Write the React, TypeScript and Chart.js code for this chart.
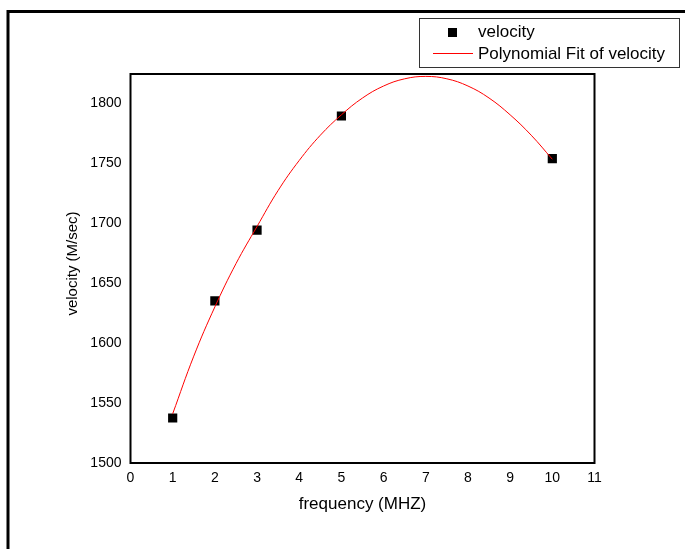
import React, { useEffect, useRef } from "react";
import { Chart, registerables } from "chart.js";

Chart.register(...registerables);

const frequency = [1, 2, 3, 5, 10];
const velocity = [1537.5, 1635, 1694, 1789, 1753.5];

const fitFrequency = [1, 1.5, 2, 2.5, 3, 3.5, 4, 4.5, 5, 5.5, 6, 6.5, 7, 7.5, 8, 8.5, 9, 9.5, 10];
const fitVelocity = [1541, 1589, 1630, 1666, 1697, 1727, 1752, 1773, 1790, 1804, 1814, 1820, 1822, 1820, 1814, 1804, 1790, 1773, 1753];

const xTicks = [0, 1, 2, 3, 4, 5, 6, 7, 8, 9, 10, 11];
const yTicks = [1500, 1550, 1600, 1650, 1700, 1750, 1800];

const legendLabels = ["velocity", "Polynomial Fit of velocity"];
const xTitle = "frequency (MHZ)";
const yTitle = "velocity (M/sec)";

const FONT = 'Arial, "Liberation Sans", sans-serif';

const decorPlugin = {
  id: "decor",
  afterDraw(chart: any) {
    const ctx = chart.ctx;
    const a = chart.chartArea;
    ctx.save();
    // plot box
    ctx.strokeStyle = "#000";
    ctx.lineWidth = 2;
    ctx.strokeRect(a.left, a.top, a.right - a.left, a.bottom - a.top);
    // outer frame
    ctx.lineWidth = 3;
    ctx.beginPath();
    ctx.moveTo(8, 560);
    ctx.lineTo(8, 11.5);
    ctx.lineTo(700, 11.5);
    ctx.stroke();
    // legend
    ctx.fillStyle = "#fff";
    ctx.fillRect(419.5, 18.5, 260, 49);
    ctx.lineWidth = 1;
    ctx.strokeStyle = "#333";
    ctx.strokeRect(419.5, 18.5, 260, 49);
    ctx.fillStyle = "#000";
    ctx.fillRect(448, 28, 9, 9);
    ctx.fillStyle = "#ff0000";
    ctx.fillRect(433, 53, 40, 1);
    ctx.fillStyle = "#000";
    ctx.font = `17px ${FONT}`;
    ctx.textBaseline = "middle";
    ctx.textAlign = "left";
    ctx.fillText(legendLabels[0], 478, 32);
    ctx.fillText(legendLabels[1], 478, 54);
    // y title
    ctx.translate(73, 263.5);
    ctx.rotate(-Math.PI / 2);
    ctx.textAlign = "center";
    ctx.font = `15px ${FONT}`;
    ctx.fillText(yTitle, 0, 0);
    ctx.restore();
  },
};

export default function App() {
  const ref = useRef<HTMLCanvasElement>(null);
  useEffect(() => {
    document.body.style.margin = "0";
    const chart = new Chart(ref.current as HTMLCanvasElement, {
      type: "scatter",
      data: {
        datasets: [
          {
            label: legendLabels[1],
            data: fitFrequency.map((x, i) => ({ x, y: fitVelocity[i] })),
            showLine: true,
            borderColor: "#ff0000",
            borderWidth: 1,
            pointRadius: 0,
            tension: 0.4,
          } as any,
          {
            label: legendLabels[0],
            data: frequency.map((x, i) => ({ x, y: velocity[i] })),
            pointStyle: "rect",
            pointRadius: 6.5,
            pointBorderWidth: 0,
            backgroundColor: "#000",
            borderColor: "#000",
          } as any,
        ],
      },
      options: {
        responsive: false,
        animation: false,
        layout: { padding: { left: 0, top: 74, right: 90.5, bottom: 0 } },
        plugins: { legend: { display: false }, tooltip: { enabled: false } },
        scales: {
          x: {
            type: "linear",
            min: 0,
            max: 11,
            grid: { display: false, drawTicks: false },
            border: { display: false },
            afterBuildTicks: (s: any) => {
              s.ticks = xTicks.map((v) => ({ value: v }));
            },
            afterFit: (s: any) => {
              s.height = 86;
            },
            ticks: {
              color: "#000",
              padding: 7,
              font: { family: FONT, size: 14 },
              callback: (v: any) => String(v),
            },
            title: {
              display: true,
              text: xTitle,
              color: "#000",
              font: { family: FONT, size: 17 },
              padding: { top: 0, bottom: 34 },
            },
          },
          y: {
            type: "linear",
            min: 1500,
            max: 1824,
            grid: { display: false, drawTicks: false },
            border: { display: false },
            afterBuildTicks: (s: any) => {
              s.ticks = yTicks.map((v) => ({ value: v }));
            },
            afterFit: (s: any) => {
              s.width = 130.5;
            },
            ticks: {
              color: "#000",
              padding: 9,
              font: { family: FONT, size: 14 },
              callback: (v: any) => String(v),
            },
            title: { display: false },
          },
        },
      },
      plugins: [decorPlugin],
    });
    return () => chart.destroy();
  }, []);
  return (
    <div style={{ position: "fixed", left: 0, top: 0, width: 685, height: 549, background: "#fff" }}>
      <canvas ref={ref} width={685} height={549} />
    </div>
  );
}
